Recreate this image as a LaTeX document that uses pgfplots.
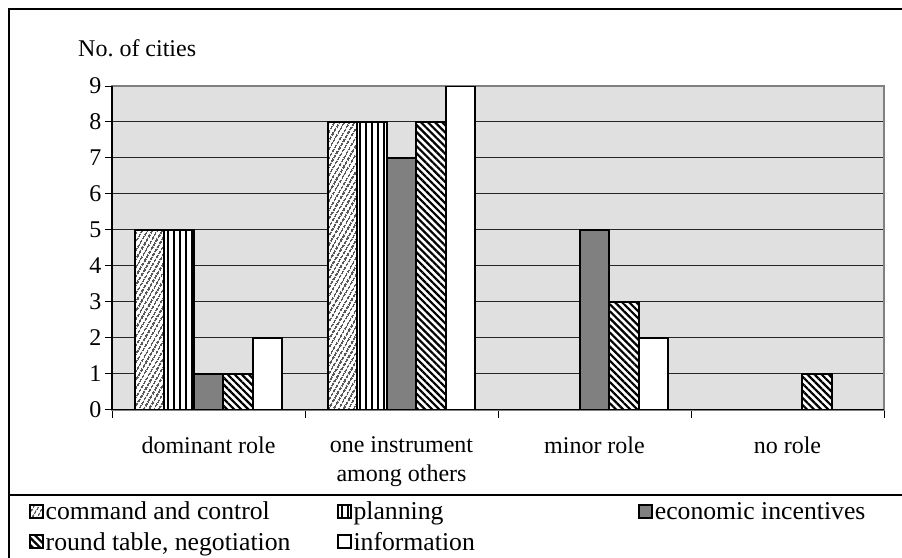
\documentclass[border=0pt]{standalone}
\usepackage{fontspec}
\setmainfont{Liberation Serif}
\usepackage{pgfplots}
\pgfplotsset{compat=1.18}
\usetikzlibrary{patterns.meta}
\definecolor{bg}{RGB}{224,224,224}
\definecolor{ecogray}{RGB}{128,128,128}
\definecolor{framegray}{RGB}{128,128,128}
\begin{document}
\begin{tikzpicture}[x=1pt,y=1pt,font=\fontsize{24}{29}\selectfont]
\useasboundingbox (0,0) rectangle (902,557);
\draw[line width=1.5pt] (9,-5) -- (9,548) -- (910,548);
\draw[line width=1.2pt] (9,62) -- (910,62);
\begin{axis}[
  at={(112pt,147.5pt)}, anchor=south west,
  scale only axis, width=772pt, height=323.5pt,
  ybar=0pt, bar width=29.5pt,
  xmin=-0.5, xmax=3.5, ymin=0, ymax=9,
  xtick={0,1,2,3},
  xticklabels={dominant role,{one instrument\\among others},minor role,no role},
  xticklabel style={align=center, yshift=-17pt},
  minor xtick={-0.5,0.5,1.5,2.5,3.5},
  ytick={0,...,9},
  tick pos=left,
  tick align=outside,
  major tick length=7pt, minor tick length=8pt,
  major x tick style={draw=none},
  tick style={black, line width=1pt},
  ymajorgrids,
  major grid style={black!85, line width=1pt},
  axis background/.style={fill=bg},
  axis line style={draw=framegray, line width=2pt},
  /pgf/number format/assume math mode=true,
  title={No.\ of cities},
  title style={at={(0,1)}, anchor=base west, xshift=-34pt, yshift=24pt, inner sep=0pt},
  legend columns=3,
  legend cell align=left,
  legend style={at={(-0.1075,-0.280)}, anchor=north west, draw=none, fill=none,
    inner sep=0pt, row sep=8pt, font=\fontsize{25.7}{30}\selectfont,
    /tikz/column 2/.style={column sep=45pt},
    /tikz/column 4/.style={column sep=162pt},
    nodes={inner sep=1.5pt}},
  legend image code/.code={\draw[#1, line width=2pt] (0pt,-6.5pt) rectangle (13pt,6.5pt);},
  every axis plot/.append style={draw=black, line width=2pt},
  after end axis/.code={\draw[black, line width=1.5pt] (rel axis cs:0,1) -- (rel axis cs:0,0) -- (rel axis cs:1,0);},
]
\addplot[preaction={fill=white}, pattern={Lines[angle=60, distance=4pt, line width=1.2pt]}, pattern color=black]
  coordinates {(0,5) (1,8)};
\addplot[preaction={fill=white}, pattern={Lines[angle=90, distance=6pt, line width=1.6pt]}, pattern color=black]
  coordinates {(0,5) (1,8)};
\addplot[fill=ecogray]
  coordinates {(0,1) (1,7) (2,5)};
\addplot[preaction={fill=white}, pattern={Lines[angle=-45, distance=5pt, line width=2.2pt]}, pattern color=black]
  coordinates {(0,1) (1,8) (2,3) (3,1)};
\addplot[fill=white]
  coordinates {(0,2) (1,9) (2,2)};
\legend{command and control, planning, economic incentives, {round table, negotiation}, information}
\end{axis}
\end{tikzpicture}
\end{document}
